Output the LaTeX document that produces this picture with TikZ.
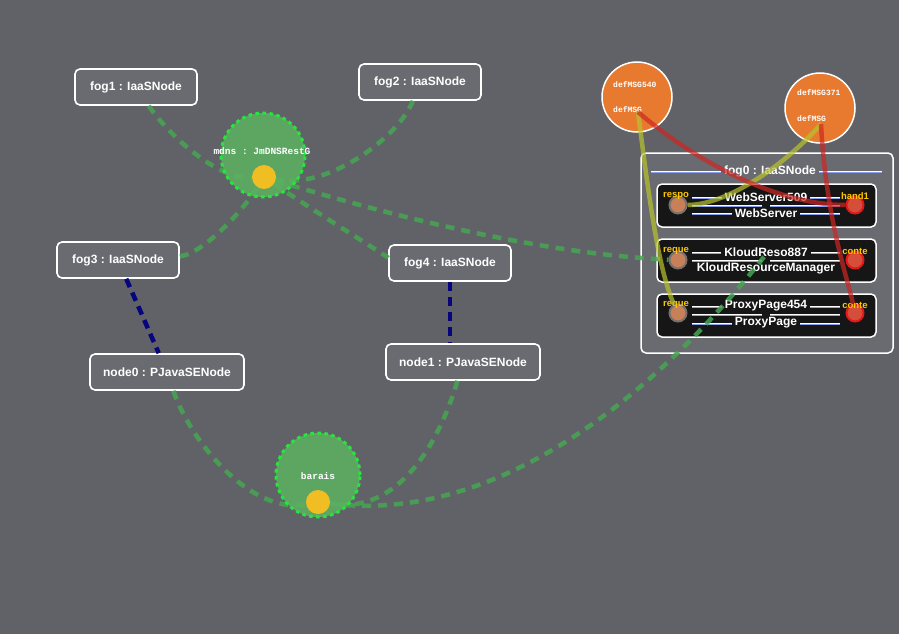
\documentclass[tikz,border=0pt]{standalone}
\usepackage{fontspec}
\setmainfont{Liberation Sans}
\setmonofont{Liberation Mono}
\usetikzlibrary{calc}

\definecolor{bggray}{RGB}{97,98,104}
\definecolor{linkgreen}{RGB}{70,165,82}
\definecolor{sitegreen}{RGB}{92,178,98}
\definecolor{dotgreen}{RGB}{40,228,62}
\definecolor{locyellow}{RGB}{240,190,35}
\definecolor{hostblue}{RGB}{5,5,125}
\definecolor{msgorange}{RGB}{232,122,48}
\definecolor{portyellow}{RGB}{255,200,0}
\definecolor{portbrown}{RGB}{200,128,88}
\definecolor{portring}{RGB}{120,112,108}
\definecolor{portred}{RGB}{212,78,58}
\definecolor{ringred}{RGB}{225,25,25}
\definecolor{compfill}{RGB}{22,22,22}
\definecolor{wireyellow}{RGB}{185,195,45}
\definecolor{wirered}{RGB}{205,38,35}
\definecolor{sepblue}{RGB}{140,160,235}

\pgfdeclarelayer{bg}
\pgfdeclarelayer{links}
\pgfdeclarelayer{top}
\pgfsetlayers{bg,main,links,top}

\begin{document}
\begin{tikzpicture}[x=1pt, y=-1pt,
    iaas/.style={draw=white, line width=1.6pt, rounded corners=5pt, fill=white, fill opacity=0.06,
      text opacity=1, text=white, font=\bfseries\fontsize{12}{14}\selectfont,
      minimum width=122pt, minimum height=36pt},
    jvm/.style={iaas, minimum width=154pt},
    site/.style={circle, minimum size=84pt, inner sep=0pt, fill=sitegreen, fill opacity=0.85,
      draw=dotgreen, line width=3pt, dash pattern=on 3.5pt off 3.5pt},
    sitetext/.style={text=white, font=\ttfamily\bfseries\fontsize{9.5}{11}\selectfont},
    loc/.style={circle, minimum size=24pt, inner sep=0pt, fill=locyellow},
    link/.style={draw=linkgreen, line width=4.5pt, dash pattern=on 9pt off 7pt, draw opacity=0.85},
    host/.style={draw=hostblue, line width=4.5pt, dash pattern=on 9pt off 6pt},
    msg/.style={circle, minimum size=70pt, inner sep=0pt, fill=msgorange, draw=white, line width=1.5pt},
    msgtext/.style={anchor=west, inner sep=0pt, text=white, font=\ttfamily\bfseries\fontsize{8}{9}\selectfont},
    comp/.style={draw=white, line width=1.5pt, rounded corners=5pt, fill=compfill,
      minimum width=219pt, minimum height=43pt},
    comptext/.style={text=white, inner sep=3pt, font=\bfseries\fontsize{12}{14}\selectfont},
    portin/.style={circle, minimum size=17pt, inner sep=0pt, fill=portbrown, draw=portring, line width=2pt},
    portout/.style={circle, minimum size=17pt, inner sep=0pt, fill=portred, draw=ringred, line width=2pt},
    portlabel/.style={inner sep=0pt, text=portyellow, font=\bfseries\fontsize{9.5}{11}\selectfont},
    rule/.style={white, line width=0.9pt},
    rulelow/.style={sepblue, line width=0.9pt, transform canvas={yshift=-1.5pt}},
    wire/.style={line width=4.5pt, draw opacity=0.7}]

  \begin{pgfonlayer}{bg}
    \fill[bggray] (0,0) rectangle (899,634);
  \end{pgfonlayer}
  \useasboundingbox (0,0) rectangle (899,634);

  % hosts
  \node[iaas] (fog1) at (136,87) {fog1 : IaaSNode};
  \node[iaas] (fog2) at (420,82) {fog2 : IaaSNode};
  \node[iaas] (fog3) at (118,260) {fog3 : IaaSNode};
  \node[iaas] (fog4) at (450,263) {fog4 : IaaSNode};
  \node[jvm] (node0) at (167,372) {node0 : PJavaSENode};
  \node[jvm] (node1) at (463,362) {node1 : PJavaSENode};

  % fog0 and its components
  \node[iaas, line width=1.5pt, minimum width=252pt, minimum height=200pt] (fog0) at (767,253) {};
  \node[comptext] (fog0-t) at (770,171) {fog0 : IaaSNode};
  \draw[rulelow] (651,171) -- (fog0-t.west);
  \draw[rulelow] (fog0-t.east) -- (882,171);
  \draw[rule] (651,171) -- (fog0-t.west);
  \draw[rule] (fog0-t.east) -- (882,171);

  \node[comp] (web) at (766.5,205.5) {};
  \node[comptext] (web-t) at (766,197) {WebServer509};
  \node[comptext] (web-s) at (766,213) {WebServer};
  \node[comp] (kloud) at (766.5,260.5) {};
  \node[comptext] (kloud-t) at (766,252) {KloudReso887};
  \node[comptext, inner sep=1pt] (kloud-s) at (766,268) {KloudResourceManager};
  \node[comp] (proxy) at (766.5,315.5) {};
  \node[comptext] (proxy-t) at (766,306) {ProxyPage454};
  \node[comptext] (proxy-s) at (766,323) {ProxyPage};

  \foreach \c/\ya/\yb in {web/197/213, kloud/252/268, proxy/306/323} {
    \foreach \s in {rulelow, rule} {
      \draw[\s] (692,\ya) -- (\c-t.west);
      \draw[\s] (\c-t.east) -- (840,\ya);
      \draw[\s] (692,{\ya+8}) -- (762,{\ya+8});
      \draw[\s] (770,{\ya+8}) -- (840,{\ya+8});
    }
  }
  \foreach \c/\yb in {web/213, proxy/323} {
    \foreach \s in {rulelow, rule} {
      \draw[\s] (692,\yb) -- (\c-s.west);
      \draw[\s] (\c-s.east) -- (840,\yb);
    }
  }

  \node[portin] (web-in) at (678,205) {};
  \node[portout] (web-out) at (855,205) {};
  \node[portin] (kloud-in) at (678,260) {};
  \node[portout] (kloud-out) at (855,260) {};
  \node[portin] (proxy-in) at (678,313) {};
  \node[portout] (proxy-out) at (855,313) {};
  \node[portlabel] (web-in-l) at (676,196) {respo};
  \node[portlabel] (web-out-l) at (855,196) {hand1};
  \node[portlabel] (kloud-in-l) at (676,251) {reque};
  \node[portlabel] (kloud-out-l) at (855,251) {conte};
  \node[portlabel] (proxy-in-l) at (676,305) {reque};
  \node[portlabel] (proxy-out-l) at (855,305) {conte};

  % message channels
  \node[msg] (m540) at (637,97) {};
  \node[msgtext] (m540-t) at (613,85) {defMSG540};
  \node[msgtext] (m540-s) at (613,110) {defMSG};
  \coordinate (m540-out) at (638,112);
  \node[msg] (m371) at (820,108) {};
  \node[msgtext] (m371-t) at (797,93) {defMSG371};
  \node[msgtext] (m371-s) at (797,119) {defMSG};
  \coordinate (m371-out) at (821,124);

  % groups
  \begin{pgfonlayer}{top}
    \node[site] (mdns) at (263,155) {};
    \node[sitetext] (mdns-t) at (262,151) {mdns : JmDNSRestG};
    \node[loc] (mdns-loc) at (264,177) {};
    \node[site] (barais) at (318,475) {};
    \node[sitetext] (barais-t) at (318,476) {barais};
    \node[loc] (barais-loc) at (318,502) {};
  \end{pgfonlayer}

  \begin{pgfonlayer}{links}
    \draw[link] (fog1) .. controls (165,130) and (215,180) .. (mdns-loc);
    \draw[link] (fog2) .. controls (400,135) and (330,190) .. (mdns-loc);
    \draw[link] (fog3) .. controls (200,255) and (240,215) .. (mdns-loc);
    \draw[link] (mdns-loc) .. controls (320,215) and (390,258) .. (fog4);
    \draw[link] (mdns-loc) .. controls (420,225) and (560,255) .. (kloud-in);
    \draw[link] (node0) .. controls (190,440) and (250,515) .. (barais-loc);
    \draw[link] (node1) .. controls (440,440) and (400,515) .. (barais-loc);
    \draw[link] (barais-loc) .. controls (500,525) and (660,390) .. (fog0.center);

    \draw[host] (fog3) -- (node0);
    \draw[host] (fog4) -- (fog4 |- node1.north);

    \draw[wire, wireyellow] (m540-out) .. controls (648,190) and (658,270) .. (proxy-in);
    \draw[wire, wireyellow] (m371-out) .. controls (790,160) and (730,205) .. (web-in);
    \draw[wire, wirered] (m540-out) .. controls (700,165) and (780,205) .. (web-out);
    \draw[wire, wirered] (m371-out) .. controls (826,220) and (848,280) .. (proxy-out);
  \end{pgfonlayer}
\end{tikzpicture}
\end{document}
